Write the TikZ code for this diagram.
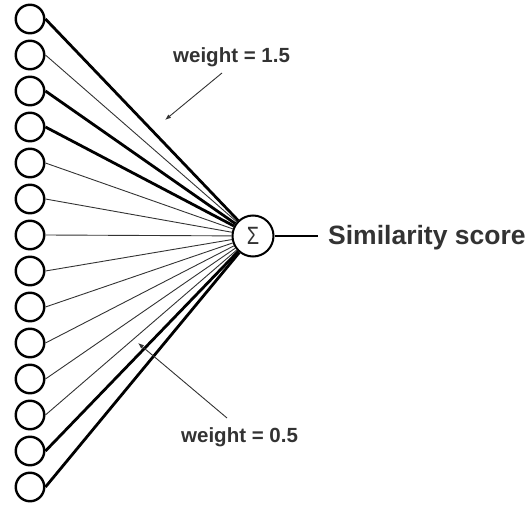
\documentclass[tikz,border=0pt]{standalone}
\usepackage{fontspec}
\setmainfont{Liberation Sans}
\usepackage{tikz}
\usetikzlibrary{arrows.meta}
\definecolor{labelgray}{HTML}{333333}

\begin{document}
\begin{tikzpicture}[x=1pt,y=-1pt,
    input/.style={circle,draw,line width=2.4pt,minimum size=28.5pt,inner sep=0pt},
    sumnode/.style={circle,draw,line width=2pt,minimum size=41pt,inner sep=0pt,
        font=\fontsize{25}{25}\selectfont,text=labelgray},
    lightedge/.style={line width=0.9pt,draw=black!80},
    heavyedge/.style={line width=2.8pt},
    weightlabel/.style={font=\bfseries\fontsize{20.5}{20.5}\selectfont,text=labelgray,inner sep=0pt,anchor=base west},
    pointer/.style={line width=0.9pt,draw=black!80,-{Latex[length=6pt,width=4.5pt]}}]
    \useasboundingbox (0,0) rectangle (531,505);
    % inputs
    \foreach \i in {1,...,14}
        \node[input] (in\i) at (30,{19+36*(\i-1)}) {};
    \node[sumnode] (sum) at (253,236) {\scalebox{0.8}[1]{Σ}};
    % weighted edges
    \foreach \i in {2,5,6,7,8,9,10,11,12}
        \draw[lightedge] (in\i.east) -- (sum);
    \foreach \i in {1,3,4,13,14}
        \draw[heavyedge] (in\i.east) -- (sum);
    % output
    \coordinate (outend) at (318,236);
    \draw[line width=2.8pt] (sum.east) -- (outend);
    \node[font=\bfseries\fontsize{26.5}{26.5}\selectfont,text=labelgray,inner sep=0pt,anchor=base west]
        (score) at (328,245) {Similarity score};
    % labels
    \node[weightlabel] (hi) at (173,63) {weight = 1.5};
    \node[weightlabel] (lo) at (181,443) {weight = 0.5};
    \coordinate (hitail) at (222,73);
    \coordinate (hitip) at (165,120);
    \coordinate (lotail) at (227,418);
    \coordinate (lotip) at (138,343);
    \draw[pointer] (hitail) -- (hitip);
    \draw[pointer] (lotail) -- (lotip);
\end{tikzpicture}
\end{document}
